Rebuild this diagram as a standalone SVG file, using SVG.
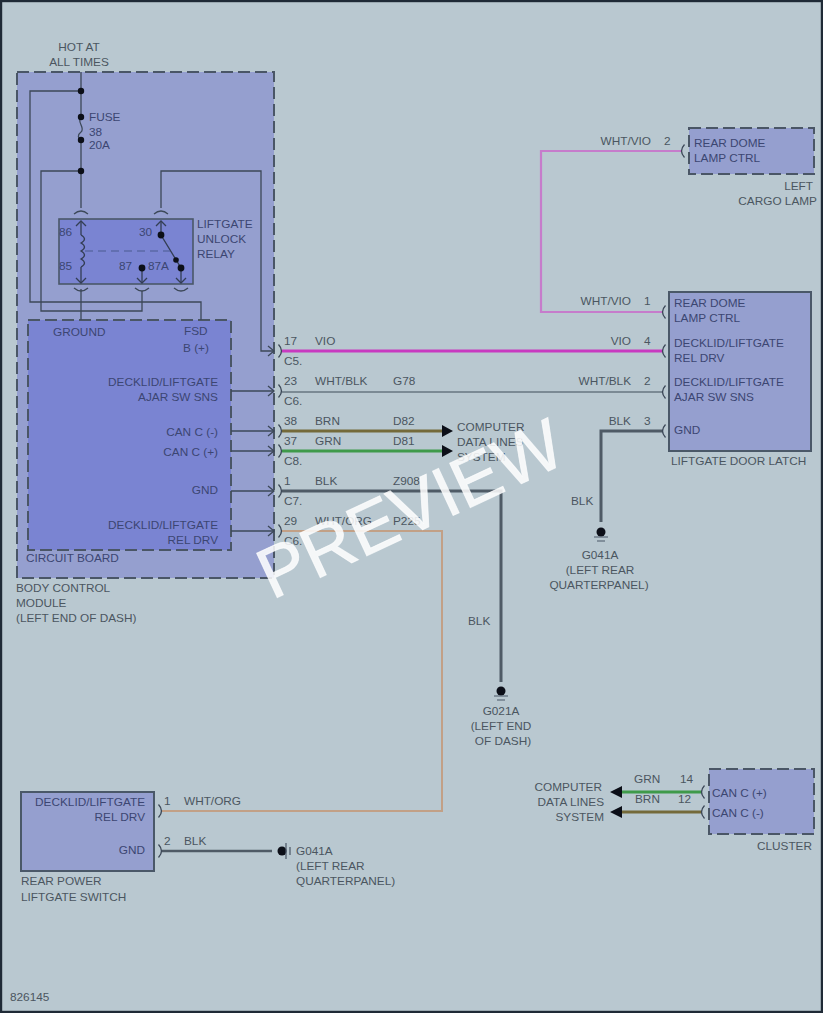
<svg xmlns="http://www.w3.org/2000/svg" xmlns:xlink="http://www.w3.org/1999/xlink" width="823" height="1013" viewBox="0 0 823 1013">
<style>
text{font-family:"Liberation Sans",Arial,sans-serif;font-size:11.8px;fill:#4b5660}
.in{fill:#3c4672}
.m{text-anchor:middle}
.e{text-anchor:end}
.dash{stroke:#4a5666;stroke-width:2;stroke-dasharray:12 5}
.solid{stroke:#4a5868;stroke-width:2}
.w{fill:none;stroke:#3c4858;stroke-width:1.3}
.thin{fill:none;stroke:#333e54;stroke-width:1.3}
.dot{fill:#0c0f18}
.g{fill:none;stroke:#4a5666;stroke-width:1.2}
</style>
<defs>
<marker id="open" markerUnits="userSpaceOnUse" markerWidth="12" markerHeight="12" refX="10" refY="6" orient="auto"><path d="M4,1 L10,6 L4,11" fill="none" stroke="#3c4858" stroke-width="1.3"/></marker>
<path id="cr" d="M-1.5,-6.5 Q4.5,0 -1.5,6.5" fill="none" stroke="#3c4858" stroke-width="1.3"/>
<path id="cl" d="M1.5,-6.5 Q-4.5,0 1.5,6.5" fill="none" stroke="#3c4858" stroke-width="1.3"/>
<path id="cu" d="M-7,2 Q0,-4 7,2" fill="none" stroke="#3c4858" stroke-width="1.3"/>
<path id="cd" d="M-7,-2 Q0,4 7,-2" fill="none" stroke="#3c4858" stroke-width="1.3"/>
</defs>
<rect id="background" x="1" y="1" width="821" height="1011" fill="#b9c8d0" stroke="#1f2a36" stroke-width="2.4"/>

<g id="body-control-module">
<rect x="17" y="72" width="257" height="506" fill="#959fcf" class="dash"/>
<text x="16" y="592">BODY CONTROL</text><text x="16" y="607">MODULE</text><text x="16" y="622">(LEFT END OF DASH)</text>
<text x="79" y="51" class="m">HOT AT</text><text x="79" y="66" class="m">ALL TIMES</text>
</g>
<g id="circuit-board">
<rect x="28" y="320" width="203" height="230" fill="#7a84d2" class="dash"/>
<text x="53" y="336" class="in">GROUND</text>
<text x="184" y="335" class="in">FSD</text>
<text x="183" y="352" class="in">B (+)</text>
<text x="218" y="386" class="in e">DECKLID/LIFTGATE</text><text x="218" y="401" class="in e">AJAR SW SNS</text>
<text x="218" y="436" class="in e">CAN C (-)</text><text x="218" y="456" class="in e">CAN C (+)</text>
<text x="218" y="494" class="in e">GND</text>
<text x="218" y="529" class="in e">DECKLID/LIFTGATE</text><text x="218" y="544" class="in e">REL DRV</text>
<text x="26" y="562" class="in">CIRCUIT BOARD</text>
</g>
<g id="fuse-38">
<text x="89" y="121" class="in">FUSE</text><text x="89" y="136" class="in">38</text><text x="89" y="149" class="in">20A</text>
</g>
<g id="relay">
<rect x="59" y="219" width="134" height="65" fill="#7a84d2" stroke="#4a5868" stroke-width="1.6"/>
<text x="59" y="236" class="in">86</text><text x="59" y="270" class="in">85</text>
<text x="139" y="236" class="in">30</text><text x="119" y="270" class="in">87</text><text x="148" y="270" class="in">87A</text>
<text x="197" y="228" class="in">LIFTGATE</text><text x="197" y="243" class="in">UNLOCK</text><text x="197" y="258" class="in">RELAY</text>
<path d="M81,235 Q88,239 81,243 Q88,247 81,251 Q88,255 81,259 Q88,263 81,267" class="thin"/>
<path d="M81,221 V235 M81,267 V283" class="thin"/>
<path d="M76,226 L81,221 L86,226 M76,278 L81,283 L86,278" class="thin"/>
<path d="M156,226 L161,221 L166,226 M137,278 L142,283 L147,278 M176,278 L181,283 L186,278" class="thin"/>
<path d="M161,221 V235 L181,268 V283 M142,268 V283" class="thin"/>
<path d="M85,251 H170" fill="none" stroke="#4a5a90" stroke-width="1" stroke-dasharray="8 5"/>
<circle cx="161" cy="235" r="3.4" class="dot"/><circle cx="176" cy="260" r="2.8" class="dot"/><circle cx="181" cy="268" r="3.4" class="dot"/><circle cx="142" cy="268" r="3.4" class="dot"/>
<use xlink:href="#cu" x="81" y="212"/><use xlink:href="#cu" x="161" y="212"/>
<use xlink:href="#cd" x="81" y="290"/><use xlink:href="#cd" x="142" y="290"/><use xlink:href="#cd" x="181" y="290"/>
</g>
<g id="left-cargo-lamp">
<rect x="689" y="128" width="125" height="46" fill="#959fcf" class="dash"/>
<text x="694" y="147" class="in">REAR DOME</text><text x="694" y="162" class="in">LAMP CTRL</text>
<text x="813" y="190" class="e">LEFT</text><text x="817" y="205" class="e">CARGO LAMP</text>
</g>
<g id="liftgate-door-latch">
<rect x="669" y="292" width="142" height="159" fill="#959fcf" class="solid"/>
<text x="674" y="307" class="in">REAR DOME</text><text x="674" y="322" class="in">LAMP CTRL</text>
<text x="674" y="347" class="in">DECKLID/LIFTGATE</text><text x="674" y="362" class="in">REL DRV</text>
<text x="674" y="386" class="in">DECKLID/LIFTGATE</text><text x="674" y="401" class="in">AJAR SW SNS</text>
<text x="674" y="434" class="in">GND</text>
<text x="671" y="465">LIFTGATE DOOR LATCH</text>
</g>
<g id="rear-power-liftgate-switch">
<rect x="21" y="792" width="133" height="79" fill="#959fcf" class="solid"/>
<text x="145" y="806" class="in e">DECKLID/LIFTGATE</text><text x="145" y="821" class="in e">REL DRV</text><text x="145" y="854" class="in e">GND</text>
<text x="21" y="885">REAR POWER</text><text x="21" y="901">LIFTGATE SWITCH</text>
</g>
<g id="cluster">
<rect x="709" y="769" width="105" height="65" fill="#959fcf" class="dash"/>
<text x="712" y="797" class="in">CAN C (+)</text><text x="712" y="817" class="in">CAN C (-)</text>
<text x="812" y="850" class="e">CLUSTER</text>
</g>
<g id="ground-g041a-latch">
<circle cx="601" cy="532" r="4.5" class="dot"/>
<path d="M594,537 H608 M597,541 H605" class="g"/>
<text x="600" y="559" class="m">G041A</text><text x="600" y="574" class="m">(LEFT REAR</text><text x="599" y="589" class="m">QUARTERPANEL)</text>
</g>
<g id="ground-g021a">
<circle cx="501" cy="691" r="4.5" class="dot"/>
<path d="M494,696 H508 M497,700 H505" class="g"/>
<text x="501" y="715" class="m">G021A</text><text x="501" y="730" class="m">(LEFT END</text><text x="503" y="745" class="m">OF DASH)</text>
</g>
<g id="ground-g041a-switch">
<circle cx="282" cy="851" r="4.5" class="dot"/>
<path d="M286,843 V859 M290,847 V855" class="g"/>
<text x="296" y="855">G041A</text><text x="296" y="870">(LEFT REAR</text><text x="296" y="885">QUARTERPANEL)</text>
</g>
<g id="data-lines-bcm">
<text x="457" y="431">COMPUTER</text><text x="457" y="446">DATA LINES</text><text x="457" y="461">SYSTEM</text>
</g>
<g id="data-lines-cluster">
<text x="602" y="791" class="e">COMPUTER</text><text x="604" y="806" class="e">DATA LINES</text><text x="604" y="821" class="e">SYSTEM</text>
</g>

<g id="connectors">
<path d="M81,72 V117 M81,140 V208 M81,289 V320" class="w"/>
<path d="M81,117 C76,122 86,128 81,132 C77,135 78,138 81,140" class="w"/>
<path d="M81,91 H30 V302 H201 V320" class="w"/>
<path d="M81,171 H41 V311 H142 V291" class="w"/>
<path d="M161,208 V171 H261 V351 H274" class="w" marker-end="url(#open)"/>
<circle cx="81" cy="91" r="3.2" class="dot"/><circle cx="81" cy="117" r="3.2" class="dot"/><circle cx="81" cy="140" r="3.2" class="dot"/><circle cx="81" cy="171" r="3.2" class="dot"/>
<path d="M231,391 H274" class="w" marker-end="url(#open)"/>
<path d="M231,431 H274" class="w" marker-end="url(#open)"/>
<path d="M231,451 H274" class="w" marker-end="url(#open)"/>
<path d="M231,491 H274" class="w" marker-end="url(#open)"/>
<path d="M231,531 H274" class="w" marker-end="url(#open)"/>

<path d="M682,151 H541 V312 H663" fill="none" stroke="#c67ccb" stroke-width="2.2"/>
<path d="M282,351 H663" fill="none" stroke="#c83ac0" stroke-width="3"/>
<path d="M282,392 H663" fill="none" stroke="#7b8a94" stroke-width="2"/>
<path d="M282,431 H444" fill="none" stroke="#746a3a" stroke-width="3"/>
<path d="M282,451 H444" fill="none" stroke="#3f9a4a" stroke-width="3"/>
<path d="M282,491 H501 V682" fill="none" stroke="#4f5b66" stroke-width="3"/>
<path d="M282,531 H442 V811 H162" fill="none" stroke="#c2a086" stroke-width="2"/>
<path d="M663,431 H601 V522" fill="none" stroke="#4f5b66" stroke-width="3"/>
<path d="M162,851 H272" fill="none" stroke="#4f5b66" stroke-width="2.4"/>
<path d="M702,792 H622" fill="none" stroke="#3f9a4a" stroke-width="3"/>
<path d="M702,812 H622" fill="none" stroke="#746a3a" stroke-width="3"/>
<path d="M442,425 L453,431 L442,437 Z M442,445 L453,451 L442,457 Z M622,786 L610,792 L622,798 Z M622,806 L610,812 L622,818 Z" fill="#0c0f18"/>

<use xlink:href="#cr" x="280" y="351"/><use xlink:href="#cr" x="280" y="391"/><use xlink:href="#cr" x="280" y="431"/><use xlink:href="#cr" x="280" y="451"/><use xlink:href="#cr" x="280" y="491"/><use xlink:href="#cr" x="280" y="531"/>
<use xlink:href="#cl" x="664" y="312"/><use xlink:href="#cl" x="664" y="351"/><use xlink:href="#cl" x="664" y="392"/><use xlink:href="#cl" x="664" y="431"/>
<use xlink:href="#cl" x="683" y="151"/>
<use xlink:href="#cr" x="160" y="811"/><use xlink:href="#cr" x="160" y="851"/>
<use xlink:href="#cl" x="703" y="792"/><use xlink:href="#cl" x="703" y="812"/>

<text x="284" y="345">17</text><text x="315" y="345">VIO</text><text x="284" y="365">C5.</text>
<text x="284" y="385">23</text><text x="315" y="385">WHT/BLK</text><text x="393" y="385">G78</text><text x="284" y="405">C6.</text>
<text x="284" y="425">38</text><text x="315" y="425">BRN</text><text x="393" y="425">D82</text>
<text x="284" y="445">37</text><text x="315" y="445">GRN</text><text x="393" y="445">D81</text><text x="284" y="465">C8.</text>
<text x="284" y="485">1</text><text x="315" y="485">BLK</text><text x="393" y="485">Z908</text><text x="284" y="505">C7.</text>
<text x="284" y="525">29</text><text x="315" y="525">WHT/ORG</text><text x="393" y="525">P225</text><text x="284" y="545">C6.</text>
<text x="651" y="145" class="e">WHT/VIO</text><text x="664" y="145">2</text>
<text x="631" y="305" class="e">WHT/VIO</text><text x="644" y="305">1</text>
<text x="631" y="345" class="e">VIO</text><text x="644" y="345">4</text>
<text x="631" y="385" class="e">WHT/BLK</text><text x="644" y="385">2</text>
<text x="631" y="425" class="e">BLK</text><text x="644" y="425">3</text>
<text x="571" y="505">BLK</text>
<text x="468" y="625">BLK</text>
<text x="164" y="805">1</text><text x="184" y="805">WHT/ORG</text>
<text x="164" y="845">2</text><text x="184" y="845">BLK</text>
<text x="634" y="783">GRN</text><text x="680" y="783">14</text>
<text x="635" y="803">BRN</text><text x="678" y="803">12</text>
</g>
<text id="watermark" x="272" y="600" transform="rotate(-25 272 600)" style="font-size:71px;fill:#ffffff;fill-opacity:.85;stroke:#ffffff;stroke-opacity:.7;stroke-width:.9">PREVIEW</text>
<text id="figure-number" x="10" y="1001">826145</text>
</svg>
